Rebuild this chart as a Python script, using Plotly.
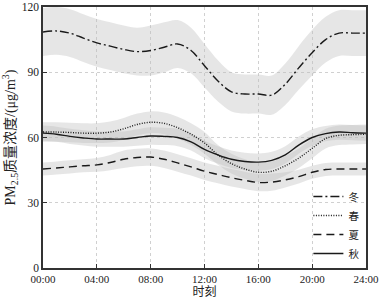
import plotly.graph_objects as go

hours = list(range(0, 25))
tick_vals = [0, 4, 8, 12, 16, 20, 24]
tick_text = ["00:00", "04:00", "08:00", "12:00", "16:00", "20:00", "24:00"]

winter = [108.5, 109, 108, 105.7, 103.5, 102, 100.5, 99.5, 100, 101.5, 103, 100, 93,
          86, 81, 80, 80, 79.5, 84.5, 92, 99, 105, 108, 108, 108]
winter_err = [11, 11, 11, 11, 11, 11, 11, 11, 11.5, 11.5, 11, 10.5, 10,
              9.5, 9, 9, 9, 9, 9.5, 10, 10.5, 10.5, 10.5, 10.5, 10.5]

spring = [62.5, 62.5, 62.3, 62, 62, 62.5, 64, 66, 67, 66.5, 64.5, 61.5, 57.5,
          52, 48, 45.5, 44, 44.5, 47, 50.5, 55, 59.5, 61, 61.3, 61.5]
spring_err = [4.5, 4.5, 4.5, 4.5, 4.5, 4.8, 5, 5, 5, 5, 5, 5, 5,
              4.5, 4.5, 4.5, 4.5, 4.5, 4.5, 4.5, 4.5, 4.5, 4.5, 4.5, 4.5]

summer = [45.5, 46, 46.5, 47, 47.4, 48.5, 50, 50.8, 51, 50, 48.3, 46.5, 44.5,
          43, 41.5, 40.3, 39.3, 39.5, 40.5, 42, 44, 45.3, 45.5, 45.5, 45.5]
summer_err = [3, 3, 3, 3, 3.2, 3.5, 4, 4, 4, 4, 4, 4, 4,
              4, 4, 4, 4, 4, 3.5, 3.2, 3, 3, 3, 3, 3]

autumn = [62, 61.5, 60.5, 59.8, 59.3, 59.3, 59.3, 60, 60.7, 60.5, 60, 58, 54.5,
          52, 50, 49, 48.7, 49.5, 52, 56.5, 60, 61.8, 62.5, 62.2, 62]
autumn_err = [3.5, 3.5, 3.5, 3.5, 3.5, 3.5, 3.5, 3.8, 4, 4, 4, 4, 4,
              4, 4, 4, 4, 4, 4, 4, 3.8, 3.5, 3.5, 3.5, 3.5]

series = [
    ("冬", winter, winter_err, "9px,3px,2px,3px"),
    ("春", spring, spring_err, "1px,1.5px"),
    ("夏", summer, summer_err, "8px,5px"),
    ("秋", autumn, autumn_err, "solid"),
]

fig = go.Figure()

# bands
for name, vals, err, dash in series:
    upper = [v + e for v, e in zip(vals, err)]
    lower = [v - e for v, e in zip(vals, err)]
    fig.add_trace(go.Scatter(x=hours, y=upper, mode="lines", line=dict(width=0, shape="spline"),
                             showlegend=False, hoverinfo="skip"))
    fig.add_trace(go.Scatter(x=hours, y=lower, mode="lines", line=dict(width=0, shape="spline"),
                             fill="tonexty", fillcolor="rgba(190,190,190,0.38)",
                             showlegend=False, hoverinfo="skip"))

for name, vals, err, dash in series:
    fig.add_trace(go.Scatter(x=hours, y=vals, mode="lines", name=name,
                             line=dict(color="#1a1a1a", width=1.4, dash=dash, shape="spline")))

font_main = "Liberation Serif, Noto Sans CJK SC, serif"

fig.update_layout(
    width=380, height=306,
    margin=dict(l=43, r=14, t=7, b=38, autoexpand=False),
    paper_bgcolor="white", plot_bgcolor="white",
    font=dict(family=font_main, size=11, color="#222"),
    showlegend=True,
    legend=dict(x=0.995, y=0.0, xanchor="right", yanchor="bottom",
                traceorder="normal",
                bgcolor="rgba(255,255,255,0)", borderwidth=0,
                font=dict(size=10.5, family=font_main), tracegroupgap=0,
                itemwidth=30),
    xaxis=dict(range=[0, 24], tickvals=tick_vals, ticktext=tick_text,
               showline=True, linecolor="#333", linewidth=1.5, mirror=True,
               ticks="inside", ticklen=4, tickcolor="#333",
               ticklabeloverflow="allow", automargin=False,
               tickfont=dict(size=11),
               showgrid=True, gridcolor="#d0d0d0", griddash="dot", gridwidth=1,
               zeroline=False,
               title=dict(text="时刻", font=dict(size=12, family=font_main), standoff=2)),
    yaxis=dict(range=[0, 120], tickvals=[0, 30, 60, 90, 120],
               showline=True, linecolor="#333", linewidth=1.5, mirror=True,
               ticks="inside", ticklen=4, tickcolor="#333",
               automargin=False, tickfont=dict(size=11.5),
               showgrid=True, gridcolor="#d0d0d0", griddash="dot", gridwidth=1,
               zeroline=False,
               title=dict(text="PM<sub>2.5</sub>质量浓度/(μg/m<sup>3</sup>)",
                          font=dict(size=14, family=font_main), standoff=3)),
)

fig.write_html("out.html", config={"displayModeBar": False},
               post_script="document.body.style.margin='0';document.body.style.padding='0';")
